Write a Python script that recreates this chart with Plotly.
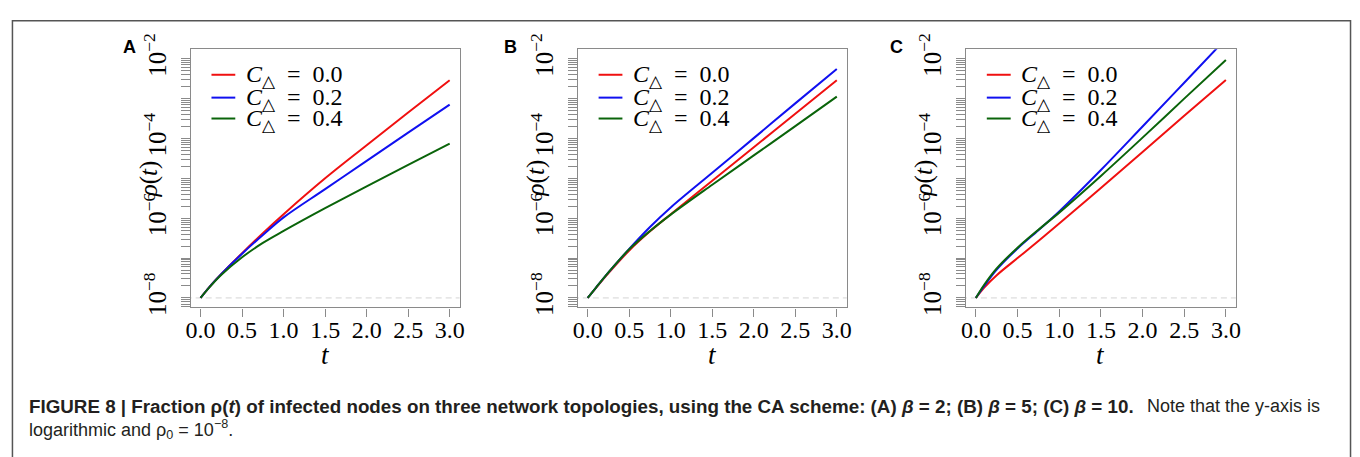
import plotly.graph_objects as go

# ---------------- data ----------------
t = [0.0, 0.1, 0.25, 0.5, 0.75, 1.0, 1.5, 2.0, 2.5, 3.0]

# Panel A (beta = 2)
rho_A_c00 = [1.0e-8, 1.82e-8, 3.98e-8, 1.33e-7, 4.22e-7, 1.26e-6, 1.00e-5, 6.76e-5, 4.47e-4, 2.88e-3]
rho_A_c02 = [1.0e-8, 1.82e-8, 3.98e-8, 1.29e-7, 3.80e-7, 1.05e-6, 5.37e-6, 2.75e-5, 1.40e-4, 7.08e-4]
rho_A_c04 = [1.0e-8, 1.78e-8, 3.80e-8, 1.05e-7, 2.40e-7, 4.79e-7, 1.78e-6, 6.31e-6, 2.19e-5, 7.41e-5]

# Panel B (beta = 5)
rho_B_c00 = [1.0e-8, 1.78e-8, 4.17e-8, 1.55e-7, 4.68e-7, 1.26e-6, 8.71e-6, 6.03e-5, 4.17e-4, 2.88e-3]
rho_B_c02 = [1.0e-8, 1.82e-8, 4.37e-8, 1.70e-7, 6.03e-7, 1.86e-6, 1.38e-5, 1.02e-4, 7.59e-4, 5.55e-3]
rho_B_c04 = [1.0e-8, 1.82e-8, 4.37e-8, 1.66e-7, 4.79e-7, 1.23e-6, 6.92e-6, 3.76e-5, 2.04e-4, 1.12e-3]

# Panel C (beta = 10)
rho_C_c00 = [1.0e-8, 1.82e-8, 3.72e-8, 1.00e-7, 2.69e-7, 7.41e-7, 5.75e-6, 4.57e-5, 3.72e-4, 2.95e-3]
rho_C_c02 = [1.0e-8, 2.00e-8, 5.13e-8, 1.74e-7, 5.01e-7, 1.48e-6, 1.62e-5, 2.00e-4, 2.51e-3, 3.16e-2]
rho_C_c04 = [1.0e-8, 2.14e-8, 5.50e-8, 1.82e-7, 5.13e-7, 1.38e-6, 1.15e-5, 1.05e-4, 1.00e-3, 9.33e-3]

rho0 = 1e-8
clustering = ["0.0", "0.2", "0.4"]
panel_letters = ["A", "B", "C"]
x_ticks = [0.0, 0.5, 1.0, 1.5, 2.0, 2.5, 3.0]
y_major = [1e-8, 1e-6, 1e-4, 1e-2]
y_major_text = ["10<sup>\u22128</sup>", "10<sup>\u22126</sup>", "10<sup>\u22124</sup>", "10<sup>\u22122</sup>"]

panels = [
    [rho_A_c00, rho_A_c02, rho_A_c04],
    [rho_B_c00, rho_B_c02, rho_B_c04],
    [rho_C_c00, rho_C_c02, rho_C_c04],
]

# ---------------- style ----------------
W, H = 1360, 457
colors = ["#f01010", "#1010f0", "#0a640a"]
serif = "Liberation Serif"
sans = "Liberation Sans"
axis_gray = "#8a8a8a"
x_domains = [(187 / W, 458 / W), (577 / W, 848 / W), (968 / W, 1240 / W)]
y_domain = (1 - 308 / H, 1 - 36 / H)
letter_x = [125, 509, 898]

minor_vals = [k * 10.0 ** n for n in range(-9, -1) for k in range(1, 10)]

fig = go.Figure()
annotations = []
shapes = []

for i, series in enumerate(panels):
    sfx = "" if i == 0 else str(i + 1)
    xa, ya = "x" + sfx, "y" + sfx
    # rho0 reference line
    fig.add_trace(go.Scatter(
        x=[t[0] - 0.3, t[-1] + 0.3], y=[rho0, rho0], mode="lines",
        line=dict(color="#d4d4d4", width=1, dash="6px,4px"),
        xaxis=xa, yaxis=ya, showlegend=False, hoverinfo="skip"))
    for j, ys in enumerate(series):
        fig.add_trace(go.Scatter(
            x=t, y=ys, mode="lines",
            line=dict(color=colors[j], width=2, shape="spline", smoothing=1.0),
            xaxis=xa, yaxis=ya, showlegend=False,
            name="C = " + clustering[j]))

    axis_common = dict(showline=True, mirror=True, linecolor=axis_gray, linewidth=1.2,
                       ticks="outside", tickcolor=axis_gray, tickwidth=1.2,
                       showgrid=False, zeroline=False)
    fig.layout["xaxis" + sfx] = dict(
        axis_common, domain=x_domains[i], range=[-0.12, 3.12],
        tickvals=x_ticks, ticktext=["%.1f" % v for v in x_ticks], ticklen=8,
        ticklabelstandoff=-7,
        tickfont=dict(family=serif, size=24, color="black"),
        anchor=ya)
    fig.layout["yaxis" + sfx] = dict(
        axis_common, domain=y_domain, type="log", range=[-8.24, -1.76],
        tickvals=y_major, ticktext=y_major_text, ticklen=9, tickangle=-90,
        ticklabelstandoff=5,
        tickfont=dict(family=serif, size=25, color="black"),
        minor=dict(tickvals=minor_vals, ticks="outside", ticklen=9,
                   tickcolor=axis_gray, tickwidth=1, showgrid=False),
        anchor=xa)

    dx = "x" + sfx + " domain"
    dy = "y" + sfx + " domain"
    # axis titles
    annotations.append(dict(xref=dx, yref=dy, x=-0.155, y=0.5, text="<i>\u03c1</i>(<i>t</i>)",
                            textangle=-90, showarrow=False, xanchor="center", yanchor="middle",
                            font=dict(family=serif, size=25, color="black")))
    annotations.append(dict(xref=dx, yref=dy, x=0.5, y=-0.184, text="<i>t</i>",
                            showarrow=False, xanchor="center", yanchor="middle",
                            font=dict(family=serif, size=27, color="black")))
    # panel letter
    annotations.append(dict(xref="paper", yref="paper", x=letter_x[i] / W, y=1 - 34 / H,
                            text="<b>%s</b>" % panel_letters[i], showarrow=False,
                            xanchor="center", yanchor="middle",
                            font=dict(family=sans, size=18, color="black")))
    # legend
    leg_y = [0.901, 0.8125, 0.7316]
    for j in range(3):
        shapes.append(dict(type="line", xref=dx, yref=dy, x0=0.0775, x1=0.166,
                           y0=leg_y[j], y1=leg_y[j], line=dict(color=colors[j], width=2)))
        annotations.append(dict(xref=dx, yref=dy, x=0.198, y=leg_y[j] - 0.005,
                                text="<i>C</i><sub>\u25b3</sub>\u2002=\u2002" + clustering[j],
                                showarrow=False, xanchor="left", yanchor="middle",
                                font=dict(family=serif, size=24, color="black")))

# outer frame
shapes.append(dict(type="rect", xref="paper", yref="paper", x0=7.5 / W, x1=1355.5 / W,
                   y0=-0.1, y1=1 - 6 / H, line=dict(color="#555555", width=1.5)))

# caption
annotations.append(dict(
    xref="paper", yref="paper", x=22 / W, y=1 - 412 / H, xanchor="left", yanchor="middle",
    showarrow=False, align="left",
    text=("<b>FIGURE 8 | Fraction \u03c1(<i>t</i>) of infected nodes on three network topologies, "
          "using the CA scheme: (A) <i>\u03b2</i> = 2; (B) <i>\u03b2</i> = 5; (C) <i>\u03b2</i> = 10.</b>"),
    font=dict(family=sans, size=18.8, color="#231f20")))
annotations.append(dict(
    xref="paper", yref="paper", x=1327 / W, y=1 - 412 / H, xanchor="right", yanchor="middle",
    showarrow=False, align="right",
    text="Note that the y-axis is",
    font=dict(family=sans, size=18, color="#231f20")))
annotations.append(dict(
    xref="paper", yref="paper", x=22 / W, y=1 - 436 / H, xanchor="left", yanchor="middle",
    showarrow=False, align="left",
    text="logarithmic and \u03c1<sub>0</sub> = 10<sup>\u22128</sup>.",
    font=dict(family=sans, size=18, color="#231f20")))

fig.update_layout(width=W, height=H, margin=dict(l=0, r=0, t=0, b=0),
                  paper_bgcolor="white", plot_bgcolor="white",
                  annotations=annotations, shapes=shapes, showlegend=False)

fig.write_html("out.html")
